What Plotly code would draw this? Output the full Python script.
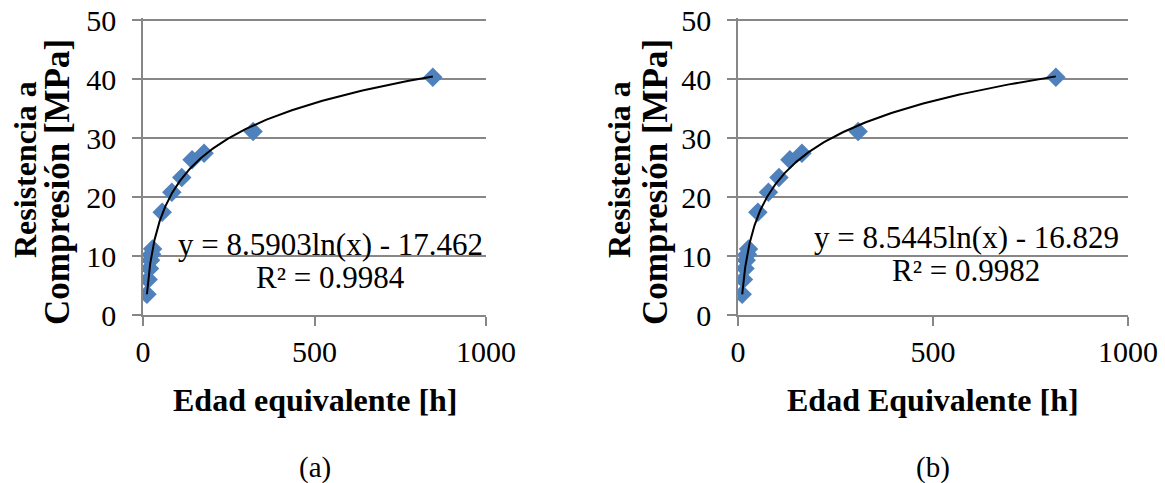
import numpy as np
import plotly.graph_objects as go

# ---- data ----
edad_a = [11.5, 15, 19, 22, 25, 28, 56, 84, 113, 143, 178, 321, 845]
res_a = [3.5, 6.0, 7.9, 9.3, 10.3, 11.2, 17.4, 20.8, 23.3, 26.3, 27.4, 31.1, 40.3]
edad_b = [10.8, 14, 18, 21, 24, 27, 51, 78, 105, 133, 164, 308, 815]
res_b = [3.5, 6.0, 7.9, 9.3, 10.3, 11.2, 17.4, 20.8, 23.3, 26.3, 27.4, 31.1, 40.3]
coef_a = [8.5903, -17.462]
coef_b = [8.5445, -16.829]
eq_a = ["y = 8.5903ln(x) - 17.462", "R² = 0.9984"]
eq_b = ["y = 8.5445ln(x) - 16.829", "R² = 0.9982"]
x_titles = ["Edad equivalente [h]", "Edad Equivalente [h]"]
y_title_lines = ["Resistencia a", "Compresión [MPa]"]
captions = ["(a)", "(b)"]
x_ticks = [0, 500, 1000]
y_ticks = [0, 10, 20, 30, 40, 50]

FONT = "Liberation Serif"
GRID = "#878787"
BLUE = "#4F81BD"
W, H = 1165, 483
Y_TOP = 50.3           # small headroom so the 50 gridline is kept
Y0_PX, Y50_PX = 315, 20
Y_TOP_PX = Y0_PX - (Y0_PX - Y50_PX) * Y_TOP / 50


def px(xp):
    return xp / W


def py(yp):
    return 1 - yp / H


fig = go.Figure()

panels = [
    (edad_a, res_a, coef_a, eq_a, "x", "y", (143, 486)),
    (edad_b, res_b, coef_b, eq_b, "x2", "y2", (738, 1128)),
]

for i, (ex, ry, cf, eq, xa, ya, (px0, px1)) in enumerate(panels):
    fig.add_trace(go.Scatter(
        x=ex, y=ry, mode="markers", xaxis=xa, yaxis=ya,
        marker=dict(symbol="diamond", size=15, color=BLUE, line=dict(width=0)),
        showlegend=False, hoverinfo="x+y"))
    xs = np.geomspace(min(ex), max(ex), 300)
    fig.add_trace(go.Scatter(
        x=xs, y=cf[0] * np.log(xs) + cf[1], mode="lines", xaxis=xa, yaxis=ya,
        line=dict(color="black", width=2), showlegend=False, hoverinfo="skip"))

    sfx = "" if i == 0 else "2"
    axis_common = dict(
        automargin=False, showgrid=False, zeroline=False, showline=True,
        linecolor=GRID, linewidth=1.5, ticklabeloverflow="allow",
        ticks="outside", ticklen=9, tickcolor=GRID, tickwidth=1.5,
        tickfont=dict(family=FONT, size=30, color="black"))
    fig.update_layout(**{
        "xaxis" + sfx: dict(
            domain=[px(px0), px(px1)], range=[0, 1000], tickvals=x_ticks,
            anchor="y" + sfx, **axis_common),
        "yaxis" + sfx: dict(
            domain=[py(Y0_PX), py(Y_TOP_PX)], range=[0, Y_TOP], tickvals=y_ticks,
            anchor="x" + sfx, **{**axis_common, "showgrid": True,
                                  "gridcolor": GRID, "gridwidth": 1.5,
                                  "ticklabelstandoff": 10}),
    })

    # trendline equation
    cx = (px0 + px1) / 2
    eq_x = 548 if i == 0 else 585
    eq_y = [11.9, 6.3] if i == 0 else [13.2, 7.6]
    for txt, yy in zip(eq, eq_y):
        fig.add_annotation(x=eq_x, y=yy, xref=xa, yref=ya, text=txt,
                           showarrow=False, xanchor="center", yanchor="middle",
                           font=dict(family=FONT, size=31, color="black"))
    # x axis title
    fig.add_annotation(x=px(cx), y=py(400), xref="paper", yref="paper",
                       text="<b>" + x_titles[i] + "</b>", showarrow=False,
                       xanchor="center", yanchor="middle",
                       font=dict(family=FONT, size=32, color="black"))
    # caption
    fig.add_annotation(x=px(cx), y=py(467), xref="paper", yref="paper",
                       text=captions[i], showarrow=False,
                       xanchor="center", yanchor="middle",
                       font=dict(family=FONT, size=29, color="black"))
    # y axis title (two lines)
    line_x = [25, 57] if i == 0 else [619, 655]
    line_y = [170, 182]
    line_size = [32, 35]
    for txt, lx, ly, ls in zip(y_title_lines, line_x, line_y, line_size):
        fig.add_annotation(x=px(lx), y=py(ly), xref="paper", yref="paper",
                           text="<b>" + txt + "</b>", showarrow=False, textangle=-90,
                           xanchor="center", yanchor="middle",
                           font=dict(family=FONT, size=ls, color="black"))

fig.update_layout(width=W, height=H, margin=dict(l=0, r=0, t=0, b=0),
                  paper_bgcolor="white", plot_bgcolor="white")

fig.write_html(
    "out.html",
    config={"displayModeBar": False},
    post_script="document.body.style.margin='0';document.body.style.overflow='hidden';")
